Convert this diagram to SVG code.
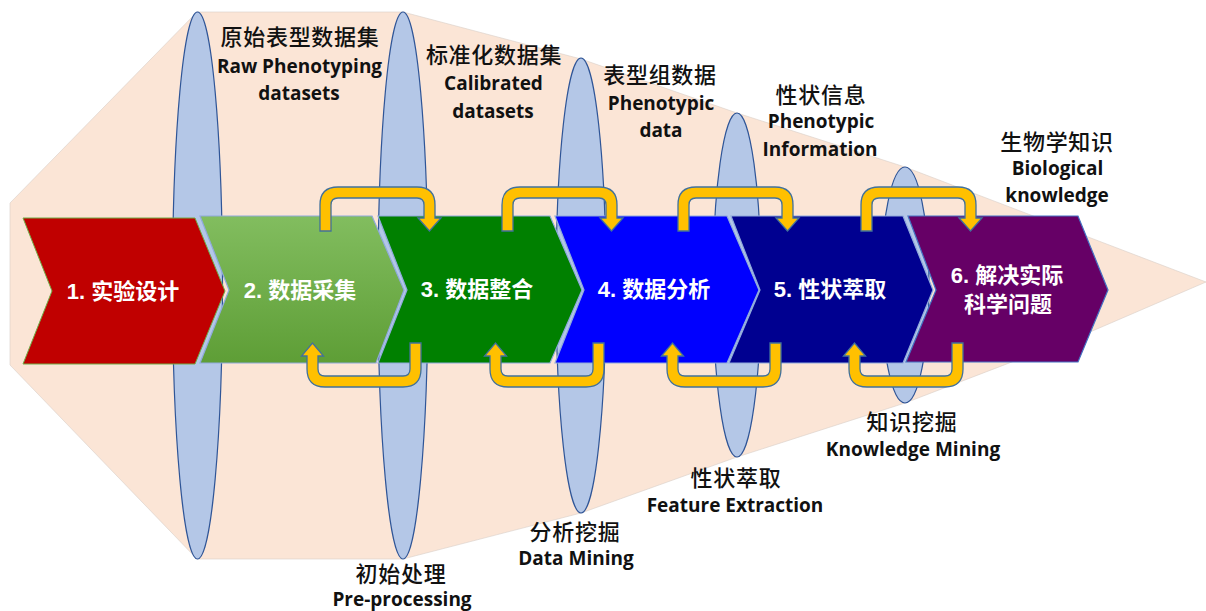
<svg xmlns="http://www.w3.org/2000/svg" width="1206" height="611" viewBox="0 0 1206 611">
  <defs>
    <linearGradient id="g2" x1="0" y1="0" x2="0" y2="1">
      <stop offset="0" stop-color="#82BD5F"/>
      <stop offset="1" stop-color="#5E9E36"/>
    </linearGradient>
    <path id="topArrow" d="M0,231 L0,205 Q0,187 18,187 L97,187 Q115,187 115,205 L115,218 L121,218 L109.5,231 L98,218 L104,218 L104,205 Q104,198 97,198 L18,198 Q11,198 11,205 L11,231 Z"/>
    <path id="botArrow" d="M114,343 L114,369 Q114,387 96,387 L18,387 Q0,387 0,369 L0,356 L-5.5,356 L5.5,343 L16.5,356 L11,356 L11,369 Q11,376 18,376 L96,376 Q103,376 103,369 L103,343 Z"/>
  </defs>
  <style>
    .bg { fill: #FBE5D6; stroke: #D9CFC8; stroke-width: 0.6; }
    .ell { fill: #B4C7E7; stroke: #2F5597; stroke-width: 1.2; }
    .chev { stroke: #8FAADC; stroke-width: 1.2; }
    .ctext { font-family: "Liberation Sans", "Noto Sans CJK SC", sans-serif; font-weight: bold; font-size: 22px; fill: #FFFFFF; text-anchor: middle; }
    .arrow { fill: #FFC000; stroke: #41719C; stroke-width: 1.3; }
    .zh { font-family: "Noto Sans CJK SC", sans-serif; font-weight: 500; font-size: 22px; fill: #111111; text-anchor: middle; letter-spacing: 0.7px; }
    .en { font-family: "Open Sans", "Liberation Sans", sans-serif; font-weight: bold; font-size: 19px; fill: #111111; text-anchor: middle; }
  </style>

  <!-- background funnel -->
  <polygon class="bg" points="10,203 197,12 403,12 581,59 737,113 905,167 1206,282 1090,332 905,403 737,457 581,513 403,559 197,559 10,365"/>

  <!-- ellipses -->
  <ellipse class="ell" cx="197.5" cy="285.5" rx="25" ry="273.5"/>
  <ellipse class="ell" cx="403" cy="285.5" rx="25" ry="273.5"/>
  <ellipse class="ell" cx="581" cy="285.5" rx="25" ry="227.5"/>
  <ellipse class="ell" cx="737" cy="285" rx="24" ry="172"/>
  <ellipse class="ell" cx="905" cy="285" rx="24" ry="118"/>

  <!-- chevron nodes -->
  <g id="node1">
    <polygon points="23,218 195,218 225,291 195,364 23,364 52,291" fill="#C00000" stroke="#70AD47" stroke-width="1"/>
    <text class="ctext" x="123" y="299">1. 实验设计</text>
  </g>
  <g id="node2">
    <polygon class="chev" points="200,216 372,216 404,290 376,363 200,363 229,290" fill="url(#g2)"/>
    <text class="ctext" x="300" y="298">2. 数据采集</text>
  </g>
  <g id="node3">
    <polygon class="chev" points="378,216 550,216 582,290 550,363 378,363 407,290" fill="#008000"/>
    <text class="ctext" x="477" y="297">3. 数据整合</text>
  </g>
  <g id="node4">
    <polygon class="chev" points="555,216 727,216 759,290 727,363 555,363 584,290" fill="#0000FF"/>
    <text class="ctext" x="654" y="297">4. 数据分析</text>
  </g>
  <g id="node5">
    <polygon class="chev" points="731,216 903,216 933,290 903,363 729,363 760,290" fill="#000090"/>
    <text class="ctext" x="830" y="297">5. 性状萃取</text>
  </g>
  <g id="node6">
    <polygon points="908,216 1078,216 1108,290 1078,362 906,362 936,290" fill="#660066" stroke="#4472C4" stroke-width="1.2"/>
    <text class="ctext" x="1007" y="283">6. 解决实际</text>
    <text class="ctext" x="1008" y="312">科学问题</text>
  </g>

  <!-- connectors -->
  <g id="connectors">
    <use href="#topArrow" class="arrow" x="320" y="0"/>
    <use href="#topArrow" class="arrow" x="502" y="0"/>
    <use href="#topArrow" class="arrow" x="678" y="0"/>
    <use href="#topArrow" class="arrow" x="861" y="0"/>
    <use href="#botArrow" class="arrow" x="307" y="0"/>
    <use href="#botArrow" class="arrow" x="490" y="0"/>
    <use href="#botArrow" class="arrow" x="667" y="0"/>
    <use href="#botArrow" class="arrow" x="849" y="0"/>
  </g>

  <!-- labels -->
  <g id="label-raw">
    <text class="zh" x="300" y="45">原始表型数据集</text>
    <text class="en" x="299.5" y="73">Raw Phenotyping</text>
    <text class="en" x="299" y="100">datasets</text>
  </g>
  <g id="label-calibrated">
    <text class="zh" x="494" y="63">标准化数据集</text>
    <text class="en" x="493.5" y="90">Calibrated</text>
    <text class="en" x="493" y="118">datasets</text>
  </g>
  <g id="label-phenodata">
    <text class="zh" x="660" y="83">表型组数据</text>
    <text class="en" x="661" y="110">Phenotypic</text>
    <text class="en" x="661" y="137">data</text>
  </g>
  <g id="label-phenoinfo">
    <text class="zh" x="821" y="103">性状信息</text>
    <text class="en" x="821" y="128">Phenotypic</text>
    <text class="en" x="820" y="156">Information</text>
  </g>
  <g id="label-bio">
    <text class="zh" x="1057" y="150">生物学知识</text>
    <text class="en" x="1057.5" y="175">Biological</text>
    <text class="en" x="1057" y="202">knowledge</text>
  </g>
  <g id="label-preprocessing">
    <text class="zh" x="401" y="582">初始处理</text>
    <text class="en" x="402" y="606">Pre-processing</text>
  </g>
  <g id="label-datamining">
    <text class="zh" x="575" y="540">分析挖掘</text>
    <text class="en" x="576" y="565">Data Mining</text>
  </g>
  <g id="label-feature">
    <text class="zh" x="736" y="486">性状萃取</text>
    <text class="en" x="735" y="512">Feature Extraction</text>
  </g>
  <g id="label-knowledge">
    <text class="zh" x="912" y="430">知识挖掘</text>
    <text class="en" x="913" y="456">Knowledge Mining</text>
  </g>
</svg>
